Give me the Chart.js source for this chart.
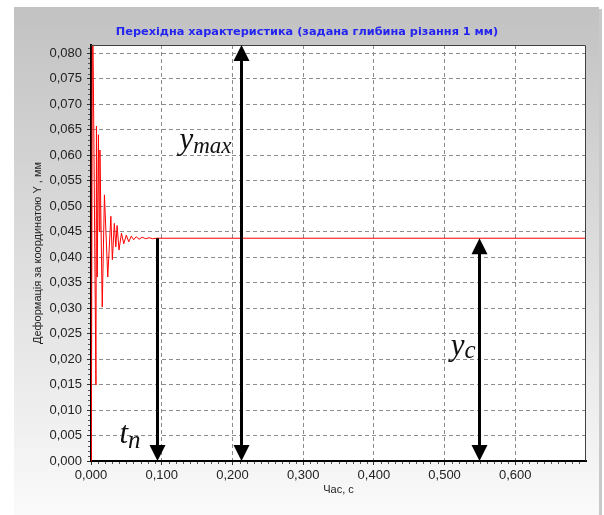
<!DOCTYPE html>
<html lang="uk">
<head>
<meta charset="UTF-8">
<title>Перехідна характеристика</title>
<script src="https://cdn.jsdelivr.net/npm/chart.js"></script>
<style>
    html, body { margin: 0; padding: 0; background: #fff; }
    #wrap { width: 604px; height: 515px; }
</style>
</head>
<body>
<div id="wrap"><canvas id="stepChart" width="604" height="515"></canvas></div>
<script>
// час, с
const timeS = [0.0000, 0.0006, 0.0021, 0.0070, 0.0077, 0.0088, 0.0105, 0.0117, 0.0126,
    0.0159, 0.0190, 0.0237, 0.0281, 0.0302, 0.0330, 0.0351, 0.0369, 0.0396, 0.0431,
    0.0463, 0.0499, 0.0534, 0.0569, 0.0604, 0.0639, 0.0681, 0.0723, 0.0772, 0.0822,
    0.0871, 0.0927, 0.7000];
// деформація за координатою Y, мм
const deformMm = [0.0000, 0.0080, 0.0950, 0.0149, 0.0657, 0.0361, 0.0640, 0.0450, 0.0610,
    0.0302, 0.0522, 0.0361, 0.0480, 0.0395, 0.0466, 0.0420, 0.0462, 0.0414, 0.0447,
    0.0426, 0.0443, 0.0430, 0.0441, 0.0434, 0.0440, 0.0435, 0.0439, 0.0436, 0.0438,
    0.0436, 0.0437, 0.0437];

const xTicks = [0, 0.1, 0.2, 0.3, 0.4, 0.5, 0.6];
const yTicks = [0, 0.005, 0.010, 0.015, 0.020, 0.025, 0.030, 0.035, 0.040,
    0.045, 0.050, 0.055, 0.060, 0.065, 0.070, 0.075, 0.080];

const chartTitle = 'Перехідна характеристика (задана глибина різання 1 мм)';

// позначки на графіку
const yMaxTop = 0.0816;
const ySteady = 0.0437;
const arrowTn = { t: 0.093, from: ySteady, to: 0 };
const arrowYmax = { t: 0.212, from: 0, to: yMaxTop };
const arrowYc = { t: 0.549, from: 0, to: ySteady };

const fmt = v => v.toFixed(3).replace('.', ',');

// фон панелі з градієнтом + заголовок
const panelBg = {
    id: 'panelBg',
    beforeDraw(chart) {
        const c = chart.ctx;
        c.save();
        c.fillStyle = '#fff';
        c.fillRect(0, 0, 604, 515);
        const g = c.createLinearGradient(0, 7, 0, 515);
        g.addColorStop(0, '#c2c2c2');
        g.addColorStop(1, '#fafafa');
        c.fillStyle = g;
        c.fillRect(14, 7, 585, 508);
        c.fillStyle = '#c9c9c9';
        c.fillRect(599, 9, 3, 506);
        const a = chart.chartArea;
        c.fillStyle = '#fff';
        c.fillRect(a.left, a.top, a.right - a.left, a.bottom - a.top);

        c.fillStyle = '#2424f0';
        c.font = 'bold 11.3px "DejaVu Sans"';
        c.textAlign = 'center';
        c.textBaseline = 'middle';
        c.fillText(chartTitle, 307, 32);
        c.restore();
    },
    afterDraw(chart) {
        // дрібні поділки на осях
        const c = chart.ctx;
        const xs = chart.scales.x, ys = chart.scales.y;
        const a = chart.chartArea;
        c.save();
        c.strokeStyle = '#555';
        c.lineWidth = 1;
        c.beginPath();
        for (let i = 1; i < 70; i++) {
            if (i % 10 === 0) continue;
            const px = Math.round(xs.getPixelForValue(i / 100)) + 0.5;
            c.moveTo(px, a.bottom + 1);
            c.lineTo(px, a.bottom + 3);
        }
        for (let i = 1; i < 82; i++) {
            if (i % 5 === 0) continue;
            const py = Math.round(ys.getPixelForValue(i / 1000)) + 0.5;
            c.moveTo(a.left - 3, py);
            c.lineTo(a.left - 1, py);
        }
        c.stroke();
        c.restore();
    }
};

function drawHead(c, x, y, dir) {
    c.beginPath();
    c.moveTo(x, y);
    c.lineTo(x - 8, y - dir * 16);
    c.lineTo(x + 8, y - dir * 16);
    c.closePath();
    c.fill();
}

function drawArrow(chart, a, both) {
    const c = chart.ctx;
    const xs = chart.scales.x, ys = chart.scales.y;
    const x = Math.round(xs.getPixelForValue(a.t)) + 0.5;
    const y1 = ys.getPixelForValue(a.from);
    const y2 = ys.getPixelForValue(a.to);
    const dir = y2 > y1 ? 1 : -1;
    c.strokeStyle = '#000';
    c.fillStyle = '#000';
    c.lineWidth = 3;
    c.beginPath();
    c.moveTo(x, y1 + (both ? dir * 10 : 0));
    c.lineTo(x, y2 - dir * 10);
    c.stroke();
    drawHead(c, x, y2, dir);
    if (both) drawHead(c, x, y1, -dir);
    return x;
}

function drawLabel(c, main, sub, right, base, subSize, subDrop) {
    c.font = 'italic 31px "Liberation Serif"';
    const w1 = c.measureText(main).width;
    c.font = 'italic ' + subSize + 'px "Liberation Serif"';
    const w2 = c.measureText(sub).width;
    const left = right - w1 - w2;
    c.fillStyle = '#111';
    c.textAlign = 'left';
    c.textBaseline = 'alphabetic';
    c.font = 'italic 31px "Liberation Serif"';
    c.fillText(main, left, base);
    c.font = 'italic ' + subSize + 'px "Liberation Serif"';
    c.fillText(sub, left + w1, base + subDrop);
}

const arrows = {
    id: 'arrows',
    afterDatasetsDraw(chart) {
        const c = chart.ctx;
        const a = chart.chartArea;
        c.save();
        // рамка області побудови
        c.strokeStyle = '#404040';
        c.lineWidth = 1;
        c.beginPath();
        c.moveTo(a.left, a.top + 0.5);
        c.lineTo(a.right - 0.5, a.top + 0.5);
        c.lineTo(a.right - 0.5, a.bottom);
        c.stroke();

        const ys = chart.scales.y;
        const xTn = drawArrow(chart, arrowTn, false);
        const xYmax = drawArrow(chart, arrowYmax, true);
        const xYc = drawArrow(chart, arrowYc, true);

        drawLabel(c, 'y', 'max', xYmax - 10, ys.getPixelForValue(0.0612), 23, 4);
        drawLabel(c, 'y', 'c', xYc - 4, ys.getPixelForValue(0.0208), 25, 3);
        drawLabel(c, 't', 'n', xTn - 17, ys.getPixelForValue(0.0035), 25, 5);
        c.restore();
    }
};

new Chart(document.getElementById('stepChart'), {
    type: 'line',
    data: {
        datasets: [{
            data: timeS.map((t, i) => ({ x: t, y: deformMm[i] })),
            borderColor: '#ff0000',
            borderWidth: 1,
            pointRadius: 0,
            tension: 0,
            fill: false
        }]
    },
    options: {
        responsive: false,
        devicePixelRatio: 1,
        animation: false,
        layout: { padding: { top: 45, left: 0, right: 18, bottom: 0 } },
        plugins: {
            legend: { display: false },
            tooltip: { enabled: false },
            title: { display: false }
        },
        scales: {
            x: {
                type: 'linear',
                min: 0,
                max: 0.7,
                afterFit: s => { s.height = 54; },
                afterBuildTicks: s => { s.ticks = xTicks.map(v => ({ value: v })); },
                ticks: {
                    callback: v => fmt(v),
                    color: '#222',
                    font: { family: '"Liberation Sans"', size: 13 },
                    padding: 3,
                    maxRotation: 0,
                    autoSkip: false
                },
                grid: {
                    color: '#8c8c8c',
                    tickLength: 4,
                    tickColor: '#333',
                    tickBorderDash: [],
                    tickWidth: 1
                },
                border: { display: true, color: '#000', width: 2, dash: [4, 3] },
                title: {
                    display: true,
                    text: 'Час, с',
                    color: '#222',
                    font: { family: '"Liberation Sans"', size: 11 },
                    padding: { top: 0, bottom: 18 }
                }
            },
            y: {
                min: 0,
                max: yMaxTop,
                afterFit: s => { s.width = 91; },
                afterBuildTicks: s => { s.ticks = yTicks.map(v => ({ value: v })); },
                ticks: {
                    callback: v => fmt(v),
                    color: '#222',
                    font: { family: '"Liberation Sans"', size: 13 },
                    padding: 5,
                    autoSkip: false
                },
                grid: {
                    color: '#8c8c8c',
                    tickLength: 4,
                    tickColor: '#333',
                    tickBorderDash: [],
                    tickWidth: 1
                },
                border: { display: true, color: '#000', width: 2, dash: [4, 3] },
                title: {
                    display: true,
                    text: 'Деформація за координатою Y , мм',
                    color: '#222',
                    font: { family: '"Liberation Sans"', size: 11 },
                    padding: { top: 31, bottom: 0 }
                }
            }
        }
    },
    plugins: [panelBg, arrows]
});
</script>
</body>
</html>
